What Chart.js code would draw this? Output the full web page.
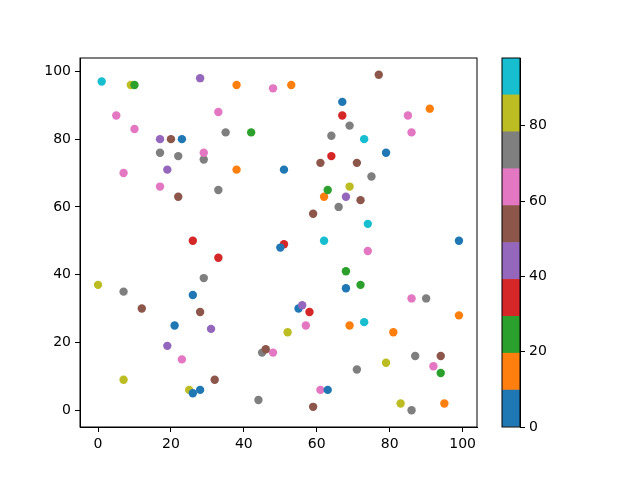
<!DOCTYPE html>
<html>
<head>
<meta charset="utf-8">
<script src="https://cdn.jsdelivr.net/npm/chart.js@4"></script>
<style>
html,body{margin:0;padding:0;background:#fff;}
#wrap{position:relative;width:640px;height:480px;}
#wrap canvas{position:absolute;left:0;top:0;}
</style>
</head>
<body>
<div id="wrap">
<canvas id="main" width="640" height="480"></canvas>
<canvas id="cbar" width="640" height="480"></canvas>
</div>
<script>
// ---- data ----
const xs = [1,9,10,28,38,48,5,10,33,17,20,23,35,42,17,22,29,29,7,19,38,17,33,22,26,
            53,77,67,67,69,64,73,85,91,86,79,64,61,71,75,51,69,62,63,68,72,66,59,74,62,99,51,50,
            33,0,7,29,26,12,28,21,31,19,23,45,48,46,7,32,25,26,28,44,
            74,68,72,68,55,56,58,57,52,69,73,81,86,90,99,71,79,87,94,92,94,61,63,59,83,86,95];
const ys = [97,96,96,98,96,95,87,83,88,80,80,80,82,82,76,75,74,76,70,71,71,66,65,63,50,
            96,99,91,87,84,81,80,87,89,82,76,75,73,73,69,71,66,63,65,63,62,60,58,55,50,50,49,48,
            45,37,35,39,34,30,29,25,24,19,15,17,17,18,9,9,6,5,6,3,
            47,41,37,36,30,31,29,25,23,25,26,23,33,33,28,12,14,16,16,13,11,6,6,1,2,0,2];
const cs = [93,84,24,44,13,64,61,66,60,42,55,3,72,27,75,70,77,67,62,46,17,65,73,51,36,
            11,57,8,33,71,76,90,63,15,68,5,38,53,50,74,1,81,19,22,41,56,78,52,96,91,6,31,2,
            35,86,69,77,4,58,54,7,47,43,59,72,60,49,80,55,87,9,0,75,
            66,29,21,4,2,48,39,62,83,12,98,16,67,70,14,73,85,76,57,64,25,61,8,50,88,71,18];
const xTicks = [0,20,40,60,80,100];
const yTicks = [0,20,40,60,80,100];
const cbTicks = [0,20,40,60,80];
const tab10 = ['#1f77b4','#ff7f0e','#2ca02c','#d62728','#9467bd','#8c564b','#e377c2','#7f7f7f','#bcbd22','#17becf'];

const vmin = Math.min(...cs), vmax = Math.max(...cs);
function colorOf(c){
  let k = Math.floor((c - vmin) / (vmax - vmin) * tab10.length);
  if (k >= tab10.length) k = tab10.length - 1;
  if (k < 0) k = 0;
  return tab10[k];
}
function pad(lo, hi){ const m = (hi - lo) * 0.05; return [lo - m, hi + m]; }
const [xMin, xMax] = pad(Math.min(...xs), Math.max(...xs));
const [yMin, yMax] = pad(Math.min(...ys), Math.max(...ys));

const FONT = {family: 'DejaVu Sans', size: 14};
const frame = {
  id: 'frame',
  afterDraw(chart){
    const a = chart.chartArea, ctx = chart.ctx;
    ctx.save();
    ctx.strokeStyle = '#000';
    ctx.lineWidth = 1;
    ctx.strokeRect(a.left, a.top, a.right - a.left, a.bottom - a.top);
    ctx.restore();
  }
};
function axisCommon(ticksArr){
  return {
    grid: {drawOnChartArea: false, drawTicks: true, tickLength: 5, color: '#000', lineWidth: 1},
    border: {display: true, color: '#000', width: 1},
    ticks: {color: '#000', font: FONT, padding: 4, autoSkip: false, maxRotation: 0},
    afterBuildTicks: s => { s.ticks = ticksArr.map(v => ({value: v})); }
  };
}

new Chart(document.getElementById('main'), {
  type: 'scatter',
  data: {
    datasets: [{
      data: xs.map((x, i) => ({x: x, y: ys[i]})),
      backgroundColor: cs.map(colorOf),
      borderWidth: 0,
      pointRadius: 4.2,
      pointHoverRadius: 4.2
    }]
  },
  options: {
    responsive: false,
    animation: false,
    devicePixelRatio: 1,
    layout: {padding: {top: 58, right: 163, bottom: 0, left: 0}},
    plugins: {legend: {display: false}, tooltip: {enabled: false}},
    scales: {
      x: Object.assign({type: 'linear', min: xMin, max: xMax,
        afterFit: s => { s.height = 53; }}, axisCommon(xTicks)),
      y: Object.assign({type: 'linear', min: yMin, max: yMax,
        afterFit: s => { s.width = 80; }}, axisCommon(yTicks))
    }
  },
  plugins: [frame]
});

const binW = (vmax - vmin) / tab10.length;
new Chart(document.getElementById('cbar'), {
  type: 'bar',
  data: {
    labels: [''],
    datasets: tab10.map(c => ({
      data: [binW], backgroundColor: c, borderWidth: 0,
      barPercentage: 1, categoryPercentage: 1, stack: 's'
    }))
  },
  options: {
    responsive: false,
    animation: false,
    devicePixelRatio: 1,
    layout: {padding: {top: 58, right: 0, bottom: 53, left: 502}},
    plugins: {legend: {display: false}, tooltip: {enabled: false}},
    scales: {
      x: {display: false, stacked: true},
      y: Object.assign({stacked: true, position: 'right', min: vmin, max: vmax,
        afterFit: s => { s.width = 120; }}, axisCommon(cbTicks))
    }
  },
  plugins: [frame]
});
</script>
</body>
</html>
